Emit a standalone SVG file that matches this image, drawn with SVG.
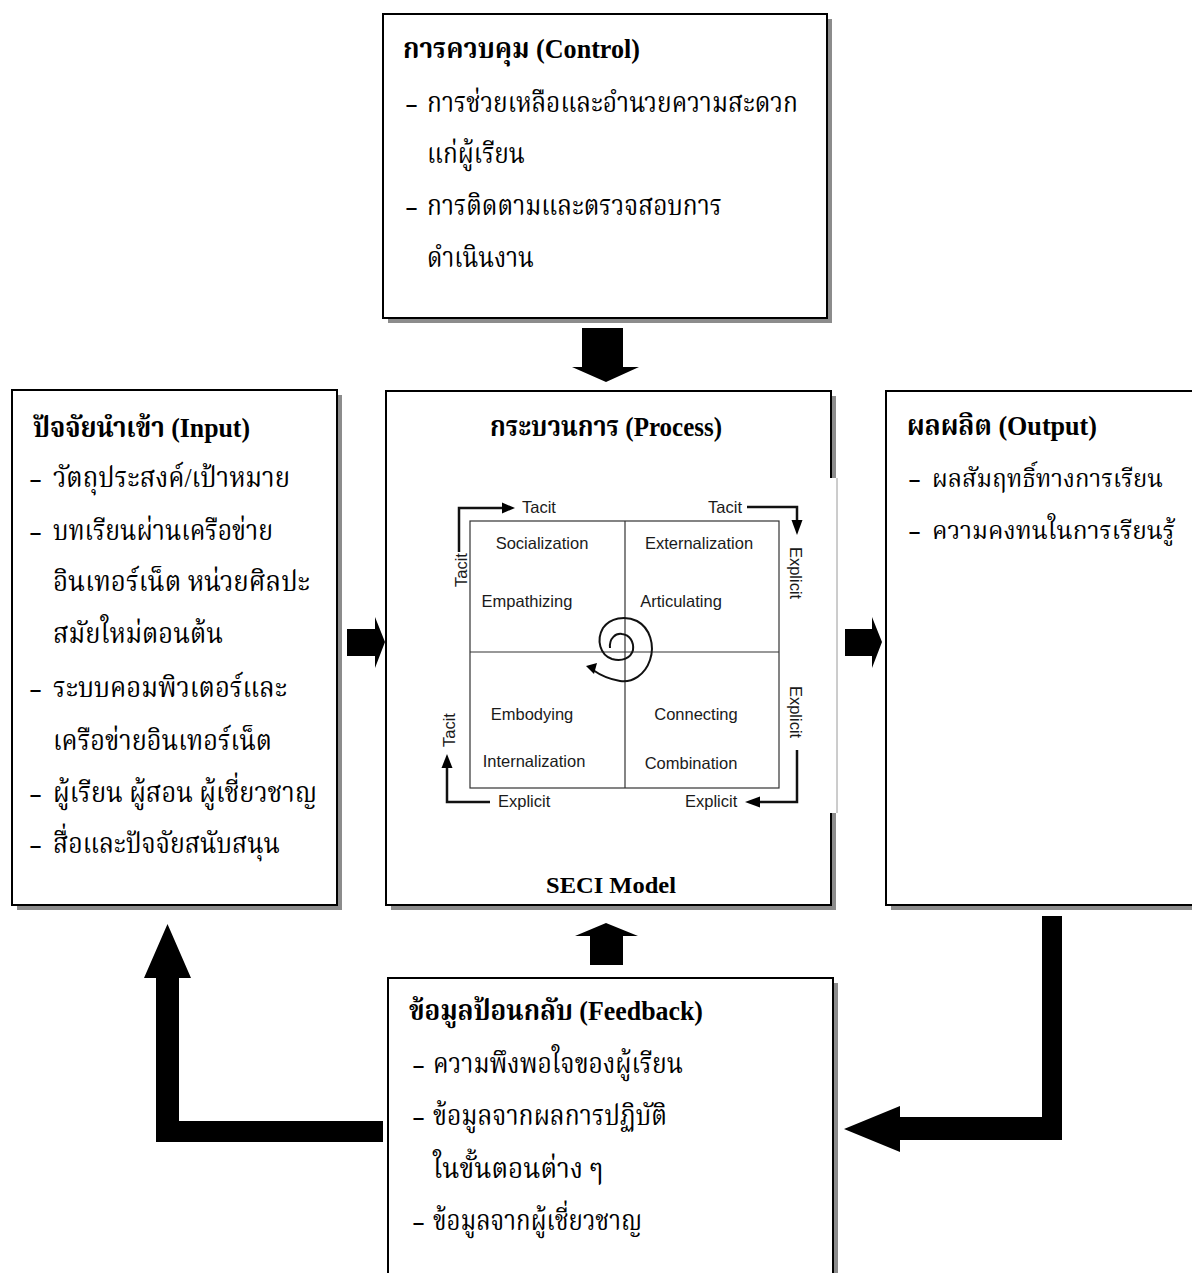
<svg xmlns="http://www.w3.org/2000/svg" width="1192" height="1273" viewBox="0 0 1192 1273">
<style>
.shadow{fill:#8c8c8c}
.box{fill:#fff;stroke:#000;stroke-width:2}
.edge{fill:none;stroke:#000;stroke-width:2}
.th{font-family:"Liberation Serif","Noto Serif Thai","Noto Sans Thai","Noto Sans",serif;font-size:28px;fill:#000}
.tt{font-family:"Liberation Serif","Noto Serif Thai","Noto Sans Thai","Noto Sans",serif;font-size:28px;font-weight:bold;fill:#000}
.lbl{font-family:"Liberation Sans",Arial,sans-serif;font-size:16.5px;fill:#1a1a1a}
.blk{fill:#000}
.ln{fill:none;stroke:#111;stroke-width:2.5}
.grid{fill:none;stroke:#333;stroke-width:1.2}
</style>
<rect width="1192" height="1273" fill="#fff"/>

<g id="control">
<rect class="shadow" x="388" y="19" width="444" height="304"/>
<rect class="box" x="383" y="14" width="444" height="304"/>
<text class="tt" x="403" y="58" textLength="237" lengthAdjust="spacingAndGlyphs">การควบคุม (Control)</text>
<text class="th" y="112"><tspan x="405" textLength="13" lengthAdjust="spacingAndGlyphs">-</tspan><tspan x="427" textLength="371" lengthAdjust="spacingAndGlyphs">การช่วยเหลือและอำนวยความสะดวก</tspan></text>
<text class="th" x="427" y="163" textLength="98" lengthAdjust="spacingAndGlyphs">แก่ผู้เรียน</text>
<text class="th" y="215"><tspan x="405" textLength="13" lengthAdjust="spacingAndGlyphs">-</tspan><tspan x="427" textLength="295" lengthAdjust="spacingAndGlyphs">การติดตามและตรวจสอบการ</tspan></text>
<text class="th" x="427" y="267" textLength="107" lengthAdjust="spacingAndGlyphs">ดำเนินงาน</text>
</g>

<g id="input">
<rect class="shadow" x="17" y="395" width="325" height="515"/>
<rect class="box" x="12" y="390" width="325" height="515"/>
<text class="tt" x="33" y="437" textLength="217" lengthAdjust="spacingAndGlyphs">ปัจจัยนำเข้า (Input)</text>
<text class="th" y="487"><tspan x="29" textLength="13" lengthAdjust="spacingAndGlyphs">-</tspan><tspan x="53" textLength="237" lengthAdjust="spacingAndGlyphs">วัตถุประสงค์/เป้าหมาย</tspan></text>
<text class="th" y="540"><tspan x="29" textLength="13" lengthAdjust="spacingAndGlyphs">-</tspan><tspan x="53" textLength="220" lengthAdjust="spacingAndGlyphs">บทเรียนผ่านเครือข่าย</tspan></text>
<text class="th" x="53" y="591" textLength="257" lengthAdjust="spacingAndGlyphs">อินเทอร์เน็ต หน่วยศิลปะ</text>
<text class="th" x="53" y="643" textLength="170" lengthAdjust="spacingAndGlyphs">สมัยใหม่ตอนต้น</text>
<text class="th" y="697"><tspan x="29" textLength="13" lengthAdjust="spacingAndGlyphs">-</tspan><tspan x="53" textLength="234" lengthAdjust="spacingAndGlyphs">ระบบคอมพิวเตอร์และ</tspan></text>
<text class="th" x="53" y="750" textLength="219" lengthAdjust="spacingAndGlyphs">เครือข่ายอินเทอร์เน็ต</text>
<text class="th" y="802"><tspan x="29" textLength="13" lengthAdjust="spacingAndGlyphs">-</tspan><tspan x="53" textLength="264" lengthAdjust="spacingAndGlyphs">ผู้เรียน ผู้สอน ผู้เชี่ยวชาญ</tspan></text>
<text class="th" y="853"><tspan x="29" textLength="13" lengthAdjust="spacingAndGlyphs">-</tspan><tspan x="53" textLength="227" lengthAdjust="spacingAndGlyphs">สื่อและปัจจัยสนับสนุน</tspan></text>
</g>

<g id="process">
<rect class="shadow" x="391" y="396" width="445" height="514"/>
<rect class="box" x="386" y="391" width="445" height="514"/>
<rect x="829" y="478" width="9" height="335" fill="#fff"/>
<line x1="837" y1="478" x2="837" y2="813" stroke="#9a9a9a" stroke-width="1"/>
<text class="tt" x="490" y="436" textLength="232" lengthAdjust="spacingAndGlyphs">กระบวนการ (Process)</text>
<text class="tt" x="546" y="893" textLength="130" lengthAdjust="spacingAndGlyphs" style="font-size:23px">SECI Model</text>
<g id="seci">
<rect class="grid" x="470" y="521" width="309" height="267"/>
<line class="grid" x1="625" y1="521" x2="625" y2="788"/>
<line class="grid" x1="470" y1="652" x2="779" y2="652"/>
<polyline class="ln" points="459,552 459,508 503,508"/>
<polygon class="blk" points="502,502.5 515,508 502,513.5"/>
<polyline class="ln" points="747,507 797,507 797,521"/>
<polygon class="blk" points="791.5,520 797,535 802.5,520"/>
<polyline class="ln" points="797,750 797,802 759,802"/>
<polygon class="blk" points="760,796.5 745,802 760,807.5"/>
<polyline class="ln" points="490,802 447,802 447,767"/>
<polygon class="blk" points="441.5,768 447,754 452.5,768"/>
<text class="lbl" x="522" y="513">Tacit</text>
<text class="lbl" x="742" y="513" text-anchor="end">Tacit</text>
<text class="lbl" text-anchor="middle" transform="translate(467,570) rotate(-90)">Tacit</text>
<text class="lbl" text-anchor="middle" transform="translate(455,730) rotate(-90)">Tacit</text>
<text class="lbl" text-anchor="middle" transform="translate(790,573) rotate(90)">Explicit</text>
<text class="lbl" text-anchor="middle" transform="translate(790,712) rotate(90)">Explicit</text>
<text class="lbl" x="498" y="807">Explicit</text>
<text class="lbl" x="685" y="807">Explicit</text>
<text class="lbl" x="542" y="549" text-anchor="middle">Socialization</text>
<text class="lbl" x="699" y="549" text-anchor="middle">Externalization</text>
<text class="lbl" x="527" y="607" text-anchor="middle">Empathizing</text>
<text class="lbl" x="681" y="607" text-anchor="middle">Articulating</text>
<text class="lbl" x="532" y="720" text-anchor="middle">Embodying</text>
<text class="lbl" x="696" y="720" text-anchor="middle">Connecting</text>
<text class="lbl" x="534" y="767" text-anchor="middle">Internalization</text>
<text class="lbl" x="691" y="769" text-anchor="middle">Combination</text>
<path fill="none" stroke="#111" stroke-width="2" d="M610,648 C609,638 616,633 622,634 C630,635 634,642 633,650 C631,658 622,662 612,659 C600,655 596,640 603,628 C610,618 625,615 637,621 C650,628 655,645 650,660 C645,675 632,683 620,681 C608,679 600,675 593,670"/>
<polygon class="blk" points="586,666 597,663 594,674"/>
</g>
</g>

<g id="output">
<rect class="shadow" x="891" y="396" width="301" height="514"/>
<rect x="886" y="391" width="306" height="514" fill="#fff"/>
<path class="edge" d="M1192,391 H886 V905 H1192"/>
<text class="tt" x="907" y="435" textLength="190" lengthAdjust="spacingAndGlyphs">ผลผลิต (Output)</text>
<text class="th" y="487" style="font-size:25.5px"><tspan x="908" textLength="13" lengthAdjust="spacingAndGlyphs">-</tspan><tspan x="932" textLength="231" lengthAdjust="spacingAndGlyphs">ผลสัมฤทธิ์ทางการเรียน</tspan></text>
<text class="th" y="539" style="font-size:25.5px"><tspan x="908" textLength="13" lengthAdjust="spacingAndGlyphs">-</tspan><tspan x="932" textLength="243" lengthAdjust="spacingAndGlyphs">ความคงทนในการเรียนรู้</tspan></text>
</g>

<g id="feedback">
<rect class="shadow" x="393" y="983" width="445" height="290"/>
<rect x="388" y="978" width="445" height="295" fill="#fff"/>
<path class="edge" d="M388,1273 V978 H833 V1273"/>
<text class="tt" x="409" y="1020" textLength="294" lengthAdjust="spacingAndGlyphs">ข้อมูลป้อนกลับ (Feedback)</text>
<text class="th" y="1073"><tspan x="412" textLength="13" lengthAdjust="spacingAndGlyphs">-</tspan><tspan x="433" textLength="250" lengthAdjust="spacingAndGlyphs">ความพึงพอใจของผู้เรียน</tspan></text>
<text class="th" y="1125"><tspan x="412" textLength="13" lengthAdjust="spacingAndGlyphs">-</tspan><tspan x="433" textLength="234" lengthAdjust="spacingAndGlyphs">ข้อมูลจากผลการปฏิบัติ</tspan></text>
<text class="th" x="433" y="1178" textLength="170" lengthAdjust="spacingAndGlyphs">ในขั้นตอนต่าง ๆ</text>
<text class="th" y="1230"><tspan x="412" textLength="13" lengthAdjust="spacingAndGlyphs">-</tspan><tspan x="433" textLength="209" lengthAdjust="spacingAndGlyphs">ข้อมูลจากผู้เชี่ยวชาญ</tspan></text>
</g>

<g id="connectors">
<path class="blk" d="M582,328 H623 V367 H639 L606,382 L572,367 H582 Z"/>
<path class="blk" d="M590,965 V936 H575 L606,923 L638,936 H623 V965 Z"/>
<path class="blk" d="M347,629 H375 V617 L385,642 L375,668 V656 H347 Z"/>
<path class="blk" d="M845,629 H872 V617 L882,642 L872,668 V656 H845 Z"/>
<path class="blk" d="M383,1121 V1142 H156 V978 H144 L167.5,924 L191,978 H179 V1121 Z"/>
<path class="blk" d="M1042,916 H1062 V1140 H900 V1152 L844,1129 L900,1106 V1117 H1042 Z"/>
</g>
</svg>
